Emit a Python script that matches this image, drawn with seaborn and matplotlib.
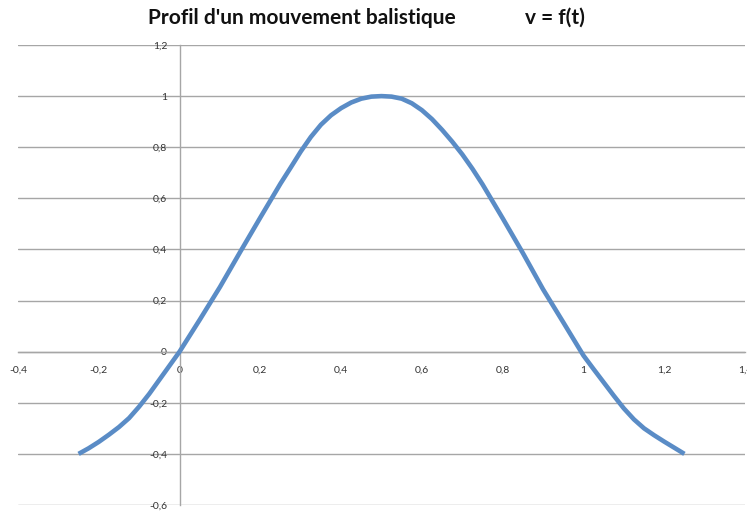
import matplotlib
matplotlib.use("Agg")
import matplotlib.pyplot as plt
import seaborn as sns

# Velocity profile of a ballistic movement, v = f(t)
t = [-0.25, -0.225, -0.20, -0.175, -0.15, -0.125, -0.10, -0.075, -0.05, -0.025,
     0.00, 0.05, 0.10, 0.15, 0.20, 0.25, 0.275, 0.30, 0.325, 0.35,
     0.375, 0.40, 0.425, 0.45, 0.475, 0.50, 0.525, 0.55, 0.575, 0.60,
     0.625, 0.65, 0.675, 0.70, 0.725, 0.75, 0.80, 0.85, 0.90, 0.95,
     1.00, 1.025, 1.05, 1.075, 1.10, 1.125, 1.15, 1.175, 1.20, 1.225, 1.25]
v = [-0.40, -0.378, -0.353, -0.325, -0.295, -0.26, -0.215, -0.165, -0.11, -0.055,
     0.00, 0.125, 0.253, 0.39, 0.525, 0.658, 0.72, 0.783, 0.84, 0.888,
     0.925, 0.953, 0.975, 0.99, 0.998, 1.00, 0.998, 0.99, 0.972, 0.945,
     0.91, 0.868, 0.822, 0.772, 0.716, 0.655, 0.522, 0.386, 0.244, 0.115,
     -0.015, -0.068, -0.12, -0.172, -0.222, -0.265, -0.30, -0.327, -0.352, -0.376, -0.40]

x_ticks = [-0.4, -0.2, 0.0, 0.2, 0.4, 0.6, 0.8, 1.0, 1.2, 1.4]
y_ticks = [-0.6, -0.4, -0.2, 0.0, 0.2, 0.4, 0.6, 0.8, 1.0, 1.2]


def fr(val):
    s = f"{val:.1f}".rstrip("0").rstrip(".")
    if s in ("-0", ""):
        s = "0"
    return s.replace(".", ",")


sns.set_style("white")
plt.rcParams["font.family"] = ["Lato", "DejaVu Sans"]

fig = plt.figure(figsize=(7.47, 5.12), dpi=100)
ax = fig.add_axes([18 / 747, 7 / 512, 727 / 747, 460 / 512])

grid_col = "#a6a6a6"
for yv in y_ticks:
    ax.axhline(yv, color=grid_col, lw=1.0, zorder=0)

sns.lineplot(x=t, y=v, ax=ax, color="#5a8cc6", lw=3.3, zorder=3,
             solid_joinstyle="round", solid_capstyle="butt")

ax.set_xlim(-0.4, 1.4)
ax.set_ylim(-0.6, 1.2)

for side in ("top", "right"):
    ax.spines[side].set_visible(False)
ax.spines["left"].set_position(("data", 0))
ax.spines["bottom"].set_position(("data", 0))
ax.spines["left"].set_color(grid_col)
ax.spines["bottom"].set_color(grid_col)
ax.spines["left"].set_linewidth(1.0)
ax.spines["bottom"].set_linewidth(1.0)

ax.set_xticks(x_ticks)
ax.set_yticks(y_ticks)
ax.set_xticklabels([fr(x) for x in x_ticks])
ax.set_yticklabels([fr(y) for y in y_ticks])
ax.tick_params(axis="x", direction="in", length=4, color=grid_col,
               labelsize=7.5, labelcolor="#333333", pad=10)
ax.tick_params(axis="y", direction="out", length=4, color=grid_col,
               labelsize=7.5, labelcolor="#333333", pad=5)
ax.set_xlabel("")
ax.set_ylabel("")

fig.text(148 / 747, 1 - 18 / 512, "Profil d'un mouvement balistique",
         fontsize=15, fontweight="bold", ha="left", va="center", color="#111111")
fig.text(525 / 747, 1 - 18 / 512, "v = f(t)",
         fontsize=15, fontweight="bold", ha="left", va="center", color="#111111")

fig.savefig("out.png", dpi=100)
